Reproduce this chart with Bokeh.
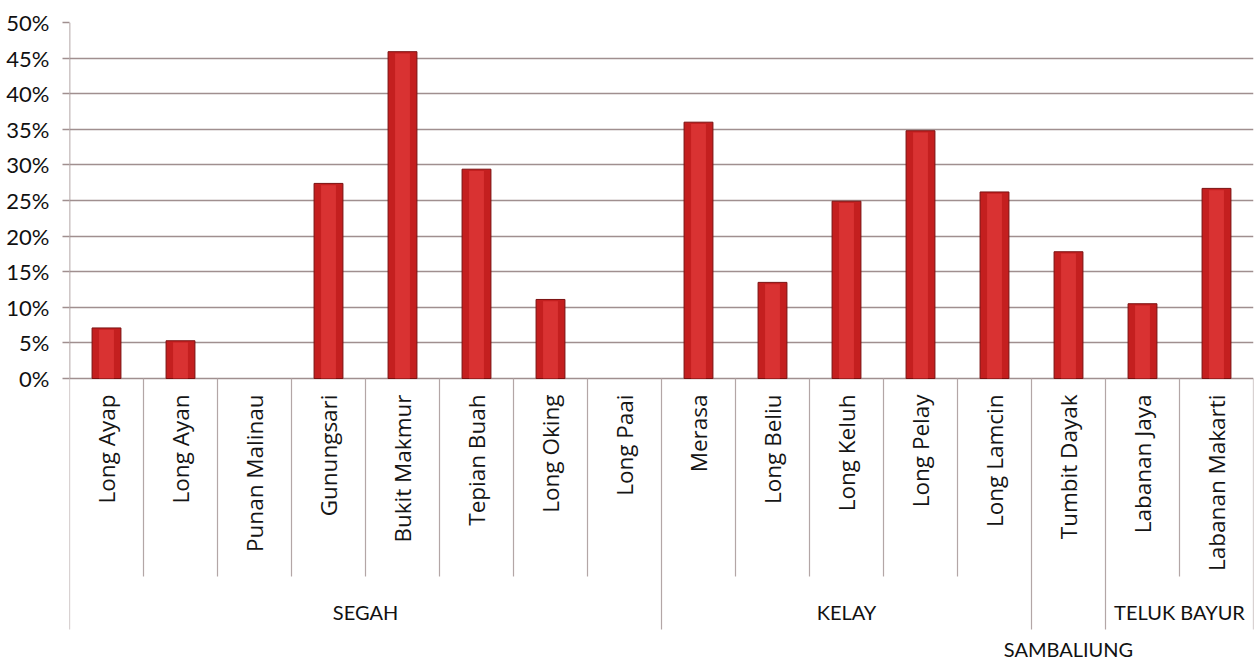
import math
from bokeh.plotting import figure
from bokeh.models import Range1d, FixedTicker, PrintfTickFormatter, ColumnDataSource, CDSView, BooleanFilter
from bokeh.core.properties import value
from bokeh.embed import file_html
from bokeh.resources import INLINE

# ---- data ----
villages = ["Long Ayap", "Long Ayan", "Punan Malinau", "Gunungsari", "Bukit Makmur",
            "Tepian Buah", "Long Oking", "Long Paai", "Merasa", "Long Beliu",
            "Long Keluh", "Long Pelay", "Long Lamcin", "Tumbit Dayak",
            "Labanan Jaya", "Labanan Makarti"]
percent = [7.1, 5.3, 0.0, 27.4, 45.9, 29.4, 11.1, 0.0, 36.0, 13.5,
           24.9, 34.8, 26.2, 17.8, 10.5, 26.7]
groups = ["SEGAH", "KELAY", "SAMBALIUNG", "TELUK BAYUR"]
group_sizes = [8, 5, 1, 2]
y_ticks = [0, 5, 10, 15, 20, 25, 30, 35, 40, 45, 50]

# ---- layout constants (pixels) ----
W, H = 1260, 662
TOP, LEFT, RIGHT = 22, 69, 7
ZERO_PX = 378
PX_PER_UNIT = (ZERO_PX - TOP) / 50.0
def py(pix):
    return -(pix - ZERO_PX) / PX_PER_UNIT

y_bottom = py(H)
n = len(villages)

p = figure(width=W, height=H, x_range=Range1d(0, n), y_range=Range1d(y_bottom, 50),
           output_backend="svg", toolbar_location=None,
           min_border_left=LEFT, min_border_right=RIGHT, min_border_top=TOP,
           min_border_bottom=0)
p.outline_line_color = None
p.background_fill_color = "white"
p.border_fill_color = "white"
p.xaxis.visible = False
p.xgrid.visible = False

grid_col = "#a08f8f"
ticker = FixedTicker(ticks=y_ticks)
p.yaxis.ticker = ticker
p.ygrid.ticker = ticker
p.ygrid.grid_line_color = grid_col
p.ygrid.grid_line_width = 1.6
p.yaxis.formatter = PrintfTickFormatter(format="%d%%")
p.yaxis.axis_line_color = None
p.yaxis.major_tick_out = 7
p.yaxis.major_tick_in = 0
p.yaxis.major_tick_line_color = grid_col
p.yaxis.major_tick_line_width = 1.6
p.yaxis.minor_tick_line_color = None
p.yaxis.major_label_standoff = 13
p.yaxis.major_label_text_font = "Lato"
p.yaxis.major_label_text_font_size = "22px"
p.yaxis.major_label_text_color = "#111111"

# ---- bars ----
xs = [i + 0.5 for i in range(n)]
src = ColumnDataSource(dict(x=xs, top=percent,
                            inner=[max(v - 0.25, 0) for v in percent],
                            name=villages))
view = CDSView(filter=BooleanFilter([v > 0 for v in percent]))
p.vbar(x="x", top="top", bottom=0, width=0.39, source=src, view=view,
       fill_color="#c41f1f", line_color="#7a1010", line_width=1)
p.vbar(x="x", top="inner", bottom=0, width=0.2, source=src, view=view,
       fill_color="#e03a3a", fill_alpha=0.75, line_color=None)

# ---- axis line and separators ----
cat_bottom = py(576)
grp_bottom = py(629)
bounds = [0]
for s in group_sizes:
    bounds.append(bounds[-1] + s)
sep_col = "#b3a6a6"
cat_lines = [i for i in range(1, n) if i not in bounds]
p.segment(x0=cat_lines, y0=[0] * len(cat_lines), x1=cat_lines, y1=[cat_bottom] * len(cat_lines),
          line_color=sep_col, line_width=1.2)
p.segment(x0=bounds, y0=[0] * len(bounds), x1=bounds, y1=[grp_bottom] * len(bounds),
          line_color=sep_col, line_width=1.2)
p.segment(x0=[0], y0=[0], x1=[0], y1=[50], line_color=grid_col, line_width=1.6)

# ---- category labels ----
p.text(x="x", y=py(394), text="name", source=src, angle=math.pi / 2,
       text_align="right", text_baseline="middle",
       text_font=value("Open Sans"), text_font_size="22.5px", text_color="#151515")

# ---- group labels ----
gx = [(bounds[i] + bounds[i + 1]) / 2 for i in range(len(groups))]
gy = [py(648) if s == 1 else py(611) for s in group_sizes]
p.text(x=gx, y=gy, text=groups, text_align="center", text_baseline="middle",
       text_font=value("Lato"), text_font_size="20px", text_color="#111111")

open("out.html", "w").write(file_html(p, INLINE))
